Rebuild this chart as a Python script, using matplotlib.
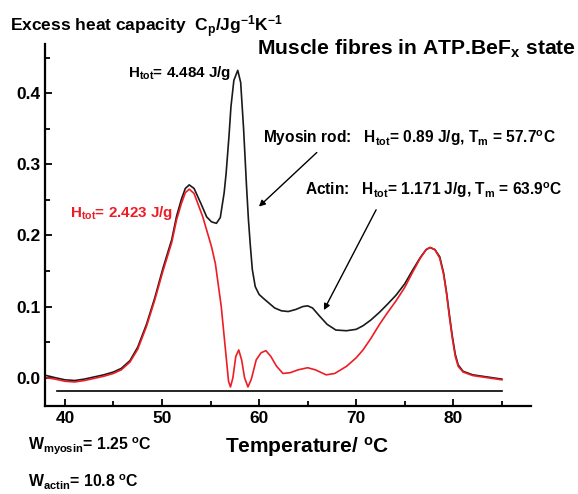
import matplotlib
matplotlib.use("Agg")
import matplotlib.pyplot as plt
from matplotlib.ticker import MultipleLocator, FormatStrFormatter

plt.rcParams["font.family"] = ["Liberation Sans", "DejaVu Sans"]
plt.rcParams["font.weight"] = "bold"
plt.rcParams["mathtext.fontset"] = "custom"
plt.rcParams["mathtext.rm"] = "Liberation Sans:bold"
plt.rcParams["mathtext.it"] = "Liberation Sans:bold"
plt.rcParams["mathtext.bf"] = "Liberation Sans:bold"
plt.rcParams["mathtext.default"] = "bf"

# total excess heat capacity (black)
t_total = [38.1, 39.0, 40.0, 41.0, 42.0, 43.0, 44.0, 45.0, 45.8, 46.7, 47.5, 48.4,
           49.25, 50.1, 51.0, 51.5, 52.0, 52.4, 52.8, 53.3, 54.0, 54.6, 55.1, 55.6, 56.0,
           56.4, 56.6, 56.9, 57.1, 57.4, 57.8, 58.1, 58.4, 58.7, 58.9, 59.1, 59.3,
           59.6, 60.0, 60.4, 61.0, 61.6, 62.3, 63.0, 63.8, 64.5, 65.0, 65.5, 66.2,
           67.0, 67.9, 69.0, 70.0, 70.7, 71.5, 72.4, 73.2, 74.1, 75.0, 75.8, 76.6,
           77.2, 77.6, 78.1, 78.6, 79.0, 79.3, 79.6, 79.9, 80.2, 80.5, 81.0, 82.0,
           83.0, 84.0, 85.0]
cp_total = [0.003, 0.000, -0.003, -0.004, -0.002, 0.001, 0.004, 0.008, 0.013, 0.024, 0.043, 0.075,
            0.112, 0.154, 0.194, 0.227, 0.251, 0.266, 0.271, 0.266, 0.245, 0.226, 0.219, 0.217, 0.225,
            0.260, 0.287, 0.340, 0.381, 0.418, 0.432, 0.415, 0.350, 0.270, 0.222, 0.185, 0.152,
            0.128, 0.117, 0.112, 0.105, 0.098, 0.094, 0.093, 0.096, 0.100, 0.101, 0.098, 0.087,
            0.075, 0.067, 0.066, 0.068, 0.073, 0.081, 0.092, 0.103, 0.116, 0.132, 0.151, 0.169,
            0.180, 0.183, 0.180, 0.170, 0.147, 0.120, 0.088, 0.058, 0.033, 0.018, 0.009, 0.004,
            0.002, 0.000, -0.002]

# after subtraction of myosin rod and actin (red)
t_rest = [38.1, 39.0, 40.0, 41.0, 42.0, 43.0, 44.0, 45.0, 45.8, 46.7, 47.5, 48.4,
          49.25, 50.1, 51.0, 51.5, 52.0, 52.4, 52.8, 53.3, 54.2, 55.1, 55.5, 56.1, 56.6,
          56.85, 57.05, 57.3, 57.6, 57.9, 58.2, 58.5, 58.85, 59.2, 59.7, 60.2, 60.7,
          61.2, 61.8, 62.45, 63.2, 64.0, 65.0, 65.8, 66.9, 67.8, 69.0, 70.0, 70.7,
          71.5, 72.4, 73.2, 74.1, 75.0, 75.8, 76.6, 77.2, 77.6, 78.1, 78.6, 79.0,
          79.3, 79.6, 79.9, 80.2, 80.5, 81.0, 82.0, 83.0, 84.0, 85.0]
cp_rest = [0.000, -0.002, -0.005, -0.006, -0.004, -0.001, 0.002, 0.006, 0.011, 0.022, 0.040, 0.072,
           0.109, 0.150, 0.190, 0.222, 0.245, 0.260, 0.265, 0.259, 0.226, 0.184, 0.160, 0.100, 0.030,
           -0.005, -0.013, 0.000, 0.030, 0.039, 0.025, 0.000, -0.013, -0.002, 0.025, 0.035, 0.038,
           0.030, 0.016, 0.006, 0.007, 0.011, 0.014, 0.011, 0.004, 0.006, 0.016, 0.028, 0.039,
           0.055, 0.075, 0.091, 0.108, 0.127, 0.148, 0.168, 0.180, 0.183, 0.180, 0.168, 0.145,
           0.118, 0.085, 0.055, 0.030, 0.016, 0.008, 0.003, 0.001, -0.001, -0.003]

baseline_t = [39.15, 85.0]
baseline_cp = [-0.0183, -0.0183]

fig = plt.figure(figsize=(5.78, 4.94), dpi=100)
ax = fig.add_axes([0.0787, 0.1787, 0.84, 0.7322])

ax.plot(t_total, cp_total, color="#1a1a1a", lw=1.2)
ax.plot(t_rest, cp_rest, color="#ee1c24", lw=1.2)
ax.plot(baseline_t, baseline_cp, color="black", lw=1.2)

ax.set_xlim(38, 88)
ax.set_ylim(-0.0394, 0.469)

for s in ["top", "right"]:
    ax.spines[s].set_visible(False)
for s in ["left", "bottom"]:
    ax.spines[s].set_linewidth(1.6)

ax.xaxis.set_major_locator(MultipleLocator(10))
ax.xaxis.set_minor_locator(MultipleLocator(5))
ax.yaxis.set_major_locator(MultipleLocator(0.1))
ax.yaxis.set_minor_locator(MultipleLocator(0.05))
ax.yaxis.set_major_formatter(FormatStrFormatter("%.1f"))
ax.tick_params(which="both", direction="in", width=1.3, labelsize=12.5)
ax.tick_params(which="major", length=5)
ax.tick_params(which="minor", length=3.5)
for lab in ax.get_xticklabels() + ax.get_yticklabels():
    lab.set_fontweight("bold")

# x label (slightly right of axes centre, as in the original)
fig.text(307 / 578, 1 - 447 / 494, "Temperature/ $^{o}$C", fontsize=15,
         fontweight="bold", ha="center", va="center")

# texts
fig.text(10 / 578, 1 - 31.7 / 494, "Excess heat capacity  C$_{p}$/Jg$^{-1}$K$^{-1}$",
         fontsize=12.5, fontweight="bold", ha="left", va="baseline")
fig.text(576 / 578, 1 - 55 / 494, "Muscle fibres in ATP.BeF$_{x}$ state",
         fontsize=15.2, fontweight="bold", ha="right", va="baseline")

ax.text(46.48, 0.423, "H$_{tot}$= 4.484 J/g", fontsize=10.9, fontweight="bold",
        ha="left", va="baseline")
ax.text(40.5, 0.2265, "H$_{tot}$= 2.423 J/g", fontsize=10.9, fontweight="bold",
        color="#ee1c24", ha="left", va="baseline")
ax.text(60.36, 0.3297, "Myosin rod:   H$_{tot}$= 0.89 J/g, T$_{m}$ = 57.7$^{o}$C",
        fontsize=11.2, fontweight="bold", ha="left", va="baseline")
ax.text(64.68, 0.257, "Actin:   H$_{tot}$= 1.171 J/g, T$_{m}$ = 63.9$^{o}$C",
        fontsize=11.2, fontweight="bold", ha="left", va="baseline")

ax.annotate("", xy=(59.98, 0.2405), xytext=(65.94, 0.3165),
            arrowprops=dict(arrowstyle="-|>", color="black", lw=1.0,
                            mutation_scale=9, shrinkA=0, shrinkB=0))
ax.annotate("", xy=(66.67, 0.095), xytext=(72.05, 0.236),
            arrowprops=dict(arrowstyle="-|>", color="black", lw=1.0,
                            mutation_scale=9, shrinkA=0, shrinkB=0))

fig.text(27.6 / 578, 1 - 450 / 494, "W$_{myosin}$= 1.25 $^{o}$C",
         fontsize=11.4, fontweight="bold", ha="left", va="baseline")
fig.text(27.6 / 578, 1 - 487 / 494, "W$_{actin}$= 10.8 $^{o}$C",
         fontsize=11.4, fontweight="bold", ha="left", va="baseline")

fig.savefig("out.png", dpi=100)
